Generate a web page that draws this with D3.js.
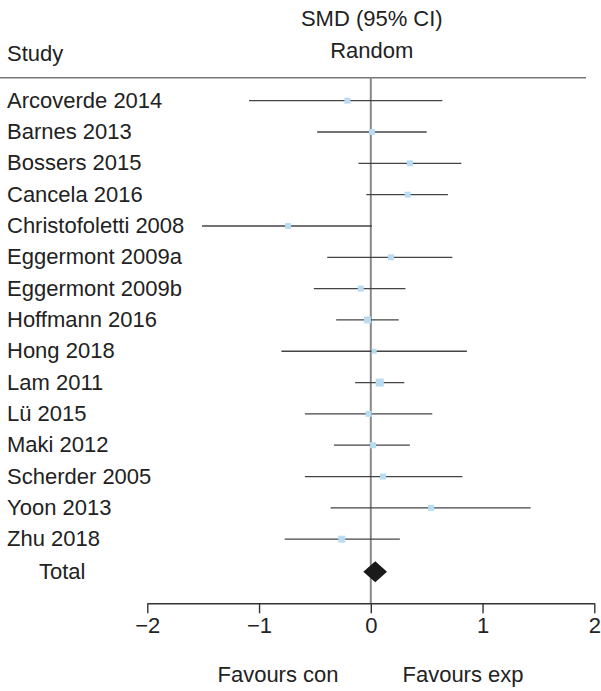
<!DOCTYPE html>
<html>
<head>
<meta charset="utf-8">
<script src="https://cdn.jsdelivr.net/npm/d3@7"></script>
<style>
  body { margin: 0; background: #fff; }
  svg text { font-family: "Liberation Sans", Arial, sans-serif; fill: #222; }
</style>
</head>
<body>
<div class="visHolder"></div>
<script>
const studies = ["Arcoverde 2014", "Barnes 2013", "Bossers 2015", "Cancela 2016", "Christofoletti 2008",
   "Eggermont 2009a", "Eggermont 2009b", "Hoffmann 2016", "Hong 2018", "Lam 2011",
   "Lü 2015", "Maki 2012", "Scherder 2005", "Yoon 2013", "Zhu 2018"];
const smd   = [-0.21, 0.01, 0.35, 0.33, -0.74, 0.18, -0.09, -0.03, 0.03, 0.08, -0.02, 0.02, 0.11, 0.54, -0.26];
const lower = [-1.09, -0.48, -0.11, -0.04, -1.51, -0.39, -0.51, -0.31, -0.80, -0.14, -0.59, -0.33, -0.59, -0.36, -0.77];
const upper = [0.64, 0.50, 0.81, 0.69, 0.01, 0.73, 0.31, 0.25, 0.86, 0.30, 0.55, 0.35, 0.82, 1.43, 0.26];
const weight = [6, 6, 6, 6, 6, 6, 6, 7, 5, 8, 6, 6, 6, 6, 7];
const total = { label: "Total", est: 0.04, lo: -0.067, hi: 0.145 };
const xTicks = [-2, -1, 0, 1, 2];

const width = 601;
const height = 691;
const fs = 22;

const svg = d3.select(".visHolder")
   .append("svg")
   .attr("width", width)
   .attr("height", height);

const xScale = d3.scaleLinear()
   .domain([-2, 2])
   .range([147.3, 594.3]);
const yScale = d3.scalePoint()
   .domain(studies.concat([total.label]))
   .range([100.7, 570.5]);

// header
svg.append("text").attr("x", 7).attr("y", 61).style("font-size", fs + "px").text("Study");
svg.append("text").attr("x", xScale(0) + 1).attr("y", 26).attr("text-anchor", "middle")
   .style("font-size", fs + "px").text("SMD (95% CI)");
svg.append("text").attr("x", xScale(0) + 1).attr("y", 58).attr("text-anchor", "middle")
   .style("font-size", fs + "px").text("Random");
svg.append("line")
   .attr("x1", 0).attr("x2", 586).attr("y1", 77.7).attr("y2", 77.7)
   .attr("stroke", "#777").attr("stroke-width", 1.4);

// zero line
svg.append("line")
   .attr("x1", xScale(0)).attr("x2", xScale(0))
   .attr("y1", 77.7).attr("y2", 603.3)
   .attr("stroke", "#888").attr("stroke-width", 2);

// study labels
svg.selectAll(".label")
   .data(studies)
   .enter()
   .append("text")
   .attr("class", "label")
   .attr("x", 7)
   .attr("y", d => yScale(d) + 7)
   .style("font-size", fs + "px")
   .text(d => d);
svg.append("text")
   .attr("x", 39)
   .attr("y", yScale(total.label) + 8)
   .style("font-size", fs + "px")
   .text(total.label);

// CI lines
svg.selectAll(".ci")
   .data(studies)
   .enter()
   .append("line")
   .attr("class", "ci")
   .attr("x1", (d, i) => xScale(lower[i]))
   .attr("x2", (d, i) => xScale(upper[i]))
   .attr("y1", d => yScale(d))
   .attr("y2", d => yScale(d))
   .attr("stroke", "#444")
   .attr("stroke-width", 1.3);

// point estimates
svg.selectAll(".pt")
   .data(studies)
   .enter()
   .append("rect")
   .attr("class", "pt")
   .attr("x", (d, i) => xScale(smd[i]) - weight[i] / 2)
   .attr("y", (d, i) => yScale(d) - weight[i] / 2)
   .attr("width", (d, i) => weight[i])
   .attr("height", (d, i) => weight[i])
   .attr("fill", "#b9dcf2");

// pooled diamond
const ty = yScale(total.label) + 1.2;
svg.append("path")
   .attr("d", "M" + xScale(total.lo) + "," + ty +
      "L" + xScale(total.est) + "," + (ty - 10.5) +
      "L" + xScale(total.hi) + "," + ty +
      "L" + xScale(total.est) + "," + (ty + 10.5) + "Z")
   .attr("fill", "#1a1a1a");

// axis
const xAxis = d3.axisBottom(xScale)
   .tickValues(xTicks)
   .tickSize(10)
   .tickSizeOuter(0)
   .tickFormat(d => d < 0 ? "\u2212" + Math.abs(d) : String(d));
const axisG = svg.append("g")
   .attr("transform", "translate(0,603.3)")
   .call(xAxis);
axisG.select(".domain").attr("stroke", "#333").attr("stroke-width", 1.4);
axisG.selectAll(".tick line").attr("stroke", "#333").attr("stroke-width", 1.4);
axisG.selectAll(".tick text")
   .attr("y", 14)
   .attr("dy", "0.71em")
   .style("font-size", fs + "px")
   .style("font-family", "'Liberation Sans', Arial, sans-serif")
   .attr("fill", "#222");

// favours labels
svg.append("text").attr("x", 278).attr("y", 682).attr("text-anchor", "middle")
   .style("font-size", fs + "px").text("Favours con");
svg.append("text").attr("x", 463).attr("y", 682).attr("text-anchor", "middle")
   .style("font-size", fs + "px").text("Favours exp");
</script>
</body>
</html>
